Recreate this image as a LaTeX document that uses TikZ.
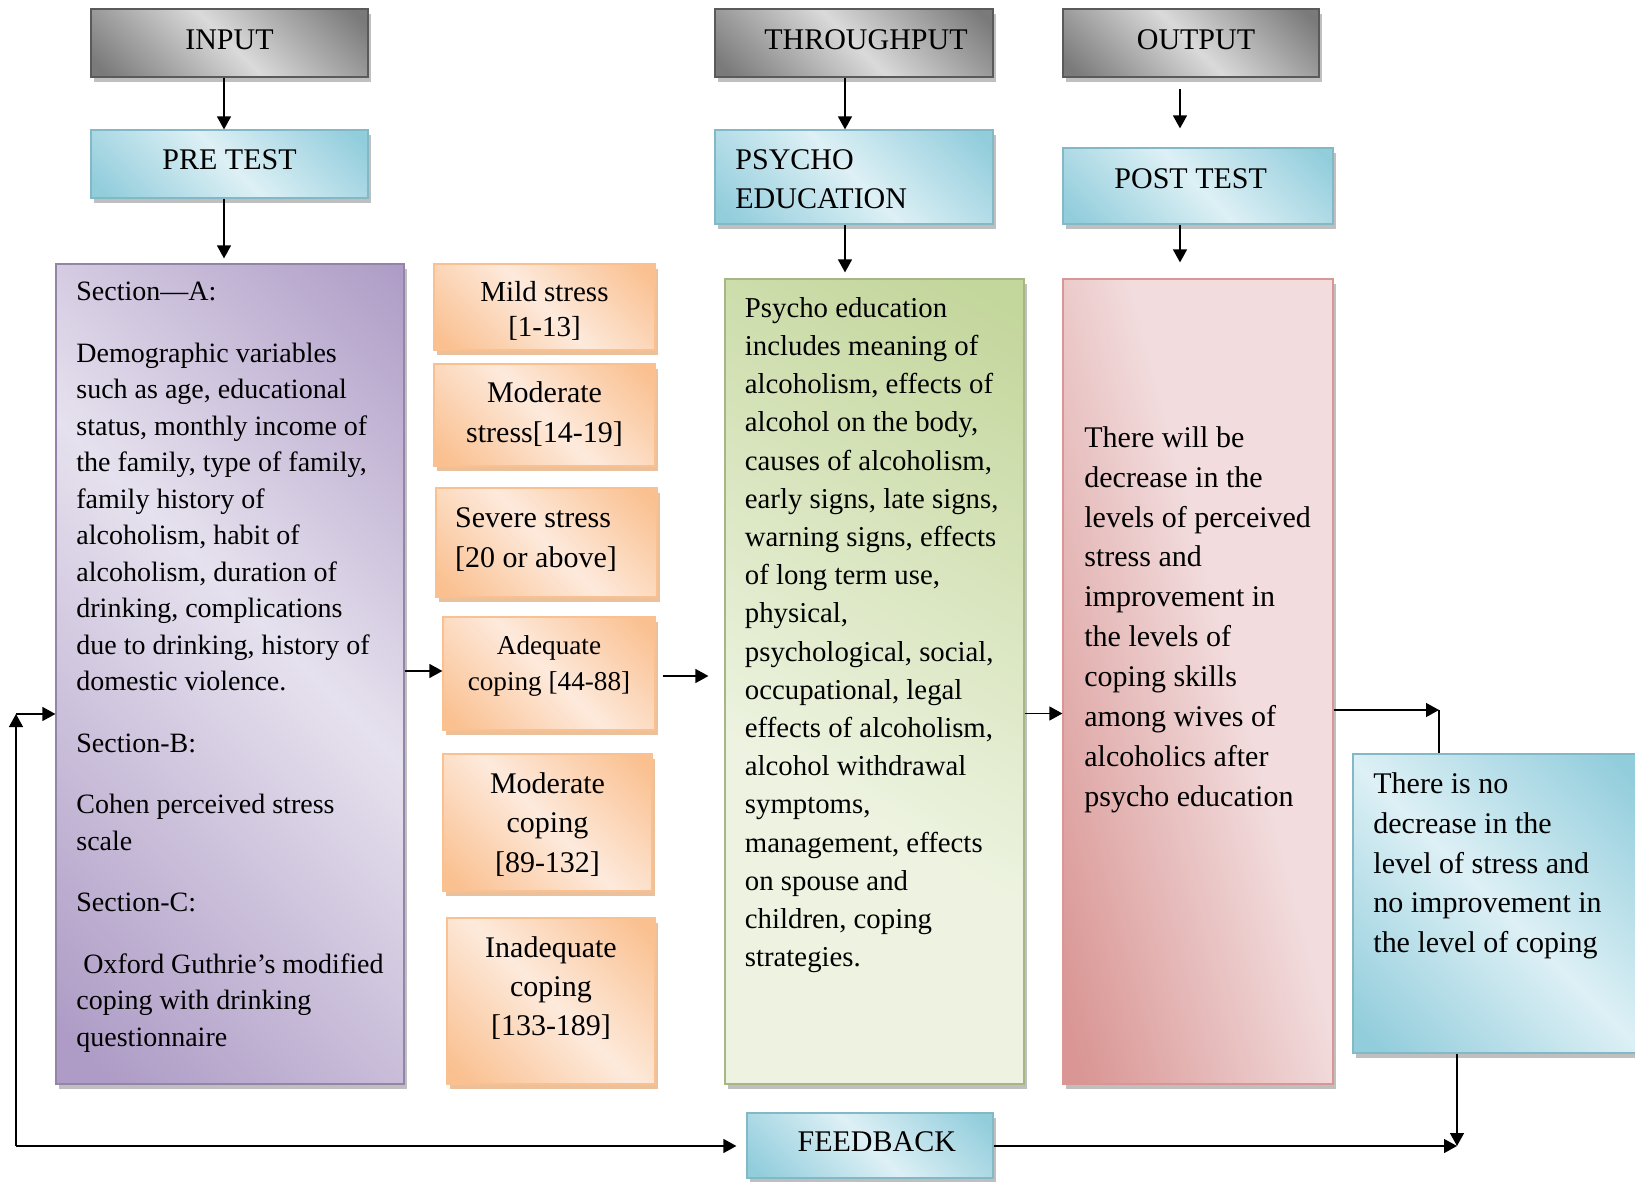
\documentclass[tikz,border=0pt]{standalone}
\usepackage{fontspec}
\setmainfont{Liberation Serif}
\usepackage{tikz}
\usetikzlibrary{arrows.meta,shadows,calc}
\usepackage{xcolor}
\definecolor{graydk}{HTML}{7A7A7A}
\definecolor{graylt}{HTML}{DADADA}
\definecolor{grayln}{HTML}{5A5A5A}
\definecolor{bluedk}{HTML}{92CDDC}
\definecolor{bluelt}{HTML}{DDF0F5}
\definecolor{purpdk}{HTML}{AE9CC6}
\definecolor{purplt}{HTML}{E6E1EE}
\definecolor{orandk}{HTML}{FAC090}
\definecolor{oranlt}{HTML}{FDEADC}
\definecolor{grendk}{HTML}{C3D69B}
\definecolor{grenlt}{HTML}{EDF3E0}
\definecolor{reddk}{HTML}{D99694}
\definecolor{redlt}{HTML}{F2DCDD}
\pgfdeclarehorizontalshading{grayfill}{100bp}{color(0bp)=(graydk); color(18bp)=(graydk); color(50bp)=(graylt); color(82bp)=(graydk); color(100bp)=(graydk)}
\pgfdeclarehorizontalshading{bluefill}{100bp}{color(0bp)=(bluedk); color(18bp)=(bluedk); color(50bp)=(bluelt); color(82bp)=(bluedk); color(100bp)=(bluedk)}
\pgfdeclarehorizontalshading{purpfill}{100bp}{color(0bp)=(purpdk); color(18bp)=(purpdk); color(55bp)=(purplt); color(85bp)=(purpdk); color(100bp)=(purpdk)}
\pgfdeclarehorizontalshading{oranfill}{100bp}{color(0bp)=(orandk); color(18bp)=(orandk); color(50bp)=(oranlt); color(82bp)=(orandk); color(100bp)=(orandk)}
\pgfdeclarehorizontalshading{grenfill}{100bp}{color(0bp)=(grenlt); color(40bp)=(grenlt); color(82bp)=(grendk); color(100bp)=(grendk)}
\pgfdeclarehorizontalshading{redfill}{100bp}{color(0bp)=(reddk); color(22bp)=(reddk); color(55bp)=(redlt); color(80bp)=(redlt); color(100bp)=(reddk)}
\tikzset{
  card/.style={draw, line width=0.6pt, inner sep=0pt, shading angle=45,
    drop shadow={shadow xshift=1.5pt, shadow yshift=-2.5pt, fill=gray!50, opacity=1}},
  head/.style={card, shading=grayfill, draw=grayln, line width=1.3pt, text depth=3.1pt, font=\fontsize{15}{18}\selectfont},
  testbox/.style={card, shading=bluefill, draw=bluedk!90!black, font=\fontsize{15}{19.8}\selectfont},
  toolbox/.style={card, shading=purpfill, draw=purpdk!85!black},
  scorebox/.style={card, shading=oranfill, draw=orandk,
    drop shadow={shadow xshift=1.5pt, shadow yshift=-2.5pt, fill=orandk!60!brown!70, opacity=1}},
  scoretxt/.style={align=center, inner sep=0pt, font=\fontsize{15}{19.8}\selectfont},
  eduBox/.style={card, shading=grenfill, shading angle=60, draw=grendk!85!black},
  resbox/.style={card, shading=redfill, shading angle=15, draw=reddk},
  txt/.style={anchor=north west, align=left, inner sep=0pt},
  arr/.style={-{Triangle[length=6.5pt,width=7pt]}, line width=0.7pt},
  line/.style={line width=0.7pt}
}
\begin{document}
\begin{tikzpicture}[x=0.5pt,y=-0.5pt]
  \useasboundingbox (0,0) rectangle (1635,1182);
  % top row
  \node[head, minimum width=138.5pt, minimum height=34pt] (inp) at (229.5,43) {INPUT};
  \node[head, minimum width=139pt, minimum height=34pt] (thr) at (854,43) {\hspace{12pt}THROUGHPUT};
  \node[head, minimum width=128pt, minimum height=34pt] (outp) at (1191,43) {\hspace{5pt}OUTPUT};
  % second row
  \node[testbox, minimum width=138.5pt, minimum height=34pt, text depth=4.2pt] (pre) at (229.5,164) {PRE TEST};
  \node[testbox, minimum width=139pt, minimum height=47pt] (psy) at (854,177) {};
  \node[txt, font=\fontsize{15}{19.8}\selectfont] (psyT) at (735,149) {PSYCHO\\EDUCATION};
  \node[testbox, minimum width=135pt, minimum height=38pt, text depth=7.3pt] (post) at (1198,186) {POST TEST\hspace*{7.3pt}};
  % tools
  \node[toolbox, minimum width=174pt, minimum height=410pt] (sec) at (230,674) {};
  \node[txt, font=\fontsize{14}{18.25}\selectfont] (secT) at (76,282) {Section---A:\\[12.5pt]
    Demographic variables\\
    such as age, educational\\
    status, monthly income of\\
    the family, type of family,\\
    family history of\\
    alcoholism, habit of\\
    alcoholism, duration of\\
    drinking, complications\\
    due to drinking, history of\\
    domestic violence.\\[12.5pt]
    Section-B:\\[12.5pt]
    Cohen perceived stress\\
    scale\\[12.5pt]
    Section-C:\\[12.5pt]
    \hspace*{3.5pt}Oxford Guthrie's modified\\
    coping with drinking\\
    questionnaire};
  % score levels
  \node[scorebox, minimum width=110.5pt, minimum height=43pt] (mild) at (544.5,307) {};
  \node[scoretxt, font=\fontsize{14.5}{17.2}\selectfont] (mildT) at (544.5,311) {Mild stress\\{[1-13]}};
  \node[scorebox, minimum width=110.5pt, minimum height=51pt] (mods) at (544.5,415) {};
  \node[scoretxt] (modsT) at (544.5,414) {Moderate\\stress[14-19]};
  \node[scorebox, minimum width=110.5pt, minimum height=54.5pt] (sev) at (546.5,542.5) {};
  \node[scoretxt, align=left] (sevT) at (536,539.5) {Severe stress\\{[20 or above]}};
  \node[scorebox, minimum width=106pt, minimum height=56.5pt] (adeq) at (549,673.5) {};
  \node[scoretxt, font=\fontsize{13.6}{17.7}\selectfont] (adeqT) at (549,666) {Adequate\\coping [44-88]};
  \node[scorebox, minimum width=104.5pt, minimum height=68.5pt] (modc) at (547.5,822.5) {};
  \node[scoretxt] (modcT) at (547.5,824.5) {Moderate\\coping\\{[89-132]}};
  \node[scorebox, minimum width=104pt, minimum height=83pt] (inad) at (551,1001) {};
  \node[scoretxt, font=\fontsize{15}{19.5}\selectfont] (inadT) at (551,988.5) {Inadequate\\coping\\{[133-189]}};
  % psycho education content
  \node[eduBox, minimum width=149.5pt, minimum height=402.5pt] (pe) at (874.5,681.5) {};
  \node[txt, font=\fontsize{14.4}{19.1}\selectfont] (peT) at (744.5,297) {Psycho education\\
    includes meaning of\\
    alcoholism, effects of\\
    alcohol on the body,\\
    causes of alcoholism,\\
    early signs, late signs,\\
    warning signs, effects\\
    of long term use,\\
    physical,\\
    psychological, social,\\
    occupational, legal\\
    effects of alcoholism,\\
    alcohol withdrawal\\
    symptoms,\\
    management, effects\\
    on spouse and\\
    children, coping\\
    strategies.};
  % expected result
  \node[resbox, minimum width=135pt, minimum height=402.5pt] (res) at (1198,681.5) {};
  \node[txt, font=\fontsize{15}{19.95}\selectfont] (resT) at (1084,426) {There will be\\
    decrease in the\\
    levels of perceived\\
    stress and\\
    improvement in\\
    the levels of\\
    coping skills\\
    among wives of\\
    alcoholics after\\
    psycho education};
  \node[testbox, minimum width=143.5pt, minimum height=149.5pt] (nodec) at (1496.5,903.5) {};
  \node[txt, font=\fontsize{15}{19.95}\selectfont] (nodecT) at (1373,772) {There is no\\
    decrease in the\\
    level of stress and\\
    no improvement in\\
    the level of coping};
  \node[testbox, minimum width=123pt, minimum height=32.5pt, text depth=4.2pt] (fb) at (870,1145.5) {\hspace{6.8pt}FEEDBACK};
  % helper points
  \coordinate (rc) at (1439,710);
  \coordinate (fbR) at (1457,1146);
  \coordinate (lb) at (16,1146);
  \coordinate (lt) at (16,714);
  % vertical flow
  \draw[arr] ([xshift=-2.75pt]inp.south) -- ([xshift=-2.75pt]pre.north);
  \draw[arr, shorten >=2.5pt] ([xshift=-2.75pt]pre.south) -- ([xshift=-2.75pt]sec.north -| pre.south);
  \draw[arr] ([xshift=-4.5pt]thr.south) -- ([xshift=-4.5pt]psy.north);
  \draw[arr, shorten >=3pt] ([xshift=-4.5pt]psy.south) -- ([xshift=-4.5pt]pe.north -| psy.south);
  \draw[arr, shorten <=5.5pt, shorten >=9.5pt] ([xshift=-5.5pt]outp.south) -- ([xshift=-5.5pt]post.north -| outp.south);
  \draw[arr, shorten >=8pt] ([xshift=-9pt]post.south) -- ([xshift=-9pt]res.north);
  % horizontal flow
  \draw[arr] ([yshift=1.5pt]sec.east) -- ([yshift=1.5pt]sec.east -| adeq.west);
  \draw[arr, shorten <=3.5pt, shorten >=8pt] ([yshift=-1.25pt]adeq.east) -- ([yshift=-1.25pt]adeq.east -| pe.west);
  \draw[arr] ([yshift=-16pt]pe.east) -- ([yshift=-16pt]pe.east -| res.west);
  \draw[arr] (res.east |- rc) -- (rc);
  \draw[line] (rc) -- (rc |- nodec.north);
  \draw[arr] (nodec.south -| fbR) -- (fbR);
  \draw[arr] (fb.east |- fbR) -- (fbR);
  % feedback loop
  \draw[arr, shorten >=5pt] (lb) -- (lb -| fb.west);
  \draw[arr] (lb) -- (lt);
  \draw[arr] (lt) -- (lt -| sec.west);
\end{tikzpicture}
\end{document}
